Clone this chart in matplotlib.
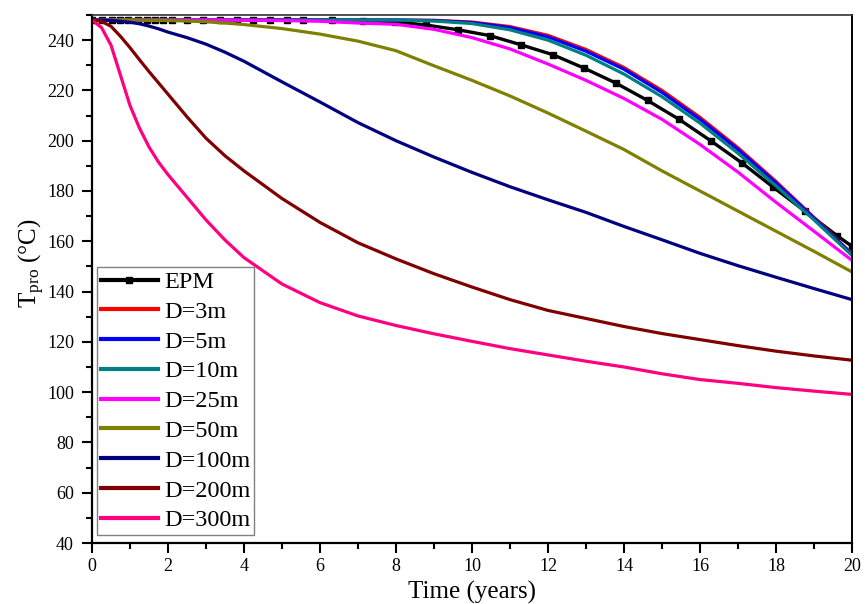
import matplotlib
matplotlib.use("Agg")
import matplotlib.pyplot as plt
from matplotlib.ticker import MultipleLocator

plt.rcParams['font.family'] = ['Liberation Serif', 'DejaVu Serif']
plt.rcParams['mathtext.fontset'] = 'custom'
plt.rcParams['mathtext.rm'] = 'Liberation Serif'
plt.rcParams['mathtext.it'] = 'Liberation Serif:italic'

# ---- data ----
t = [0, 0.25, 0.5, 0.75, 1, 1.25, 1.5, 1.75, 2, 2.5, 3, 3.5, 4, 5, 6, 7, 8, 9, 10,
     11, 12, 13, 14, 15, 16, 17, 18, 19, 20]

d3 = [248, 248, 248, 248, 248, 248, 248, 248, 248, 248, 248, 248, 248, 248, 248, 248, 248,
      247.9, 247.2, 245.4, 241.9, 236.3, 229.1, 220.0, 209.3, 197.2, 183.8, 169.5, 155.0]
d5 = [248, 248, 248, 248, 248, 248, 248, 248, 248, 248, 248, 248, 248, 248, 248, 248, 248,
      247.8, 247.0, 245.0, 241.3, 235.6, 228.4, 219.2, 208.5, 196.5, 183.2, 169.2, 154.8]
d10 = [248, 248, 248, 248, 248, 248, 248, 248, 248, 248, 248, 248, 248, 248, 248, 248, 248,
       247.6, 246.6, 244.1, 240.0, 234.0, 226.5, 217.5, 207.0, 195.0, 182.0, 168.5, 154.4]
d25 = [248, 248, 248, 248, 248, 248, 248, 248, 248, 248, 248, 248, 247.9, 247.8, 247.5,
       246.8, 246.3, 244.3, 241.0, 236.5, 230.5, 224.0, 216.8, 208.5, 198.5, 187.5, 175.5,
       164.0, 152.4]
d50 = [248, 248, 248, 248, 248, 248, 247.9, 247.85, 247.8, 247.6, 247.3, 246.8, 246.2,
       244.6, 242.4, 239.6, 235.8, 229.8, 224.0, 217.8, 211.0, 203.8, 196.5, 188.0, 180.0,
       172.0, 164.0, 156.0, 147.8]
d100 = [248, 248, 247.8, 247.5, 247.1, 246.5, 245.6, 244.5, 243.2, 241.0, 238.4, 235.2,
        231.6, 223.4, 215.4, 207.2, 200.0, 193.5, 187.4, 181.7, 176.5, 171.5, 165.9, 160.6,
        155.2, 150.3, 145.7, 141.2, 136.8]
d200 = [248, 247.5, 245.5, 241.5, 237.0, 232.2, 227.5, 223.0, 218.5, 209.5, 201.0, 194.0,
        188.0, 177.0, 167.5, 159.4, 153.0, 147.1, 141.8, 136.8, 132.5, 129.3, 126.1, 123.3,
        120.9, 118.5, 116.3, 114.4, 112.7]
d300 = [248, 245.0, 238.0, 226.0, 214.0, 205.0, 197.5, 191.5, 186.5, 177.5, 168.5, 160.5,
        153.5, 143.0, 135.6, 130.3, 126.5, 123.2, 120.2, 117.3, 114.8, 112.3, 110.0, 107.3,
        105.0, 103.5, 101.8, 100.4, 99.1]

t_epm = [0, 0.26, 0.52, 0.74, 0.96, 1.22, 1.44, 1.66, 1.88, 2.1, 2.49, 2.93, 3.37, 3.81,
         4.24, 4.68, 5.12, 5.56, 6.31, 7.14, 7.97, 8.8, 9.64, 10.47, 11.3, 12.13, 12.96,
         13.79, 14.62, 15.45, 16.28, 17.11, 17.92, 18.76, 19.6, 20]
epm = [248, 248, 248, 248, 248, 248, 248, 248, 248, 248, 248, 248, 248, 248,
       248, 248, 248, 248, 247.9, 247.8, 247.3, 246.0, 244.1, 241.8, 238.1, 234.2, 228.8,
       222.9, 216.0, 208.5, 200.0, 191.1, 181.6, 172.0, 162.3, 158.0]

series = [
    ("D=3m", d3, "#FF0000"),
    ("D=5m", d5, "#0000FF"),
    ("D=10m", d10, "#008080"),
    ("D=25m", d25, "#FF00FF"),
    ("D=50m", d50, "#808000"),
    ("D=100m", d100, "#000080"),
    ("D=200m", d200, "#800000"),
    ("D=300m", d300, "#FF0080"),
]

fig = plt.figure(figsize=(8.65, 6.04), dpi=100)
ax = fig.add_axes([92/865, 61/604, 760/865, 528/604])

ax.plot(t_epm, epm, color="black", lw=2.4, marker="s", ms=5, label="EPM")
for name, vals, col in series:
    ax.plot(t, vals, color=col, lw=2.3, label=name)

ax.set_xlim(0, 20)
ax.set_ylim(40, 250)
ax.xaxis.set_major_locator(MultipleLocator(2))
ax.xaxis.set_minor_locator(MultipleLocator(1))
ax.yaxis.set_major_locator(MultipleLocator(20))
ax.yaxis.set_minor_locator(MultipleLocator(10))

ax.tick_params(which="both", direction="out", top=False, right=False, width=1.5)
ax.tick_params(which="major", length=7)
ax.tick_params(which="minor", length=4)
ax.tick_params(axis="x", which="major", labelsize=13, pad=4)
ax.tick_params(axis="y", which="major", labelsize=13, pad=6)

for s in ["left", "bottom"]:
    ax.spines[s].set_linewidth(1.6)
ax.spines["right"].set_linewidth(1.4)
ax.spines["top"].set_linewidth(1.2)
ax.spines["top"].set_color("#333333")

ax.set_xlabel("Time (years)", fontsize=18, labelpad=4)
ax.set_ylabel(r"T$_{\mathrm{pro}}$ (°C)", fontsize=18, va="baseline")
ax.yaxis.set_label_coords(-0.072, 0.53)

leg = ax.legend(loc="lower left", bbox_to_anchor=(5/760, 8/528), borderaxespad=0,
                fontsize=17.5, frameon=True, fancybox=False, edgecolor="#808080",
                framealpha=1, handlelength=2.35, handletextpad=0.25, labelspacing=0.32,
                borderpad=0.15)
leg.get_frame().set_linewidth(1.0)
for ln in leg.get_lines():
    ln.set_linewidth(3)

fig.savefig("out.png", dpi=100)
